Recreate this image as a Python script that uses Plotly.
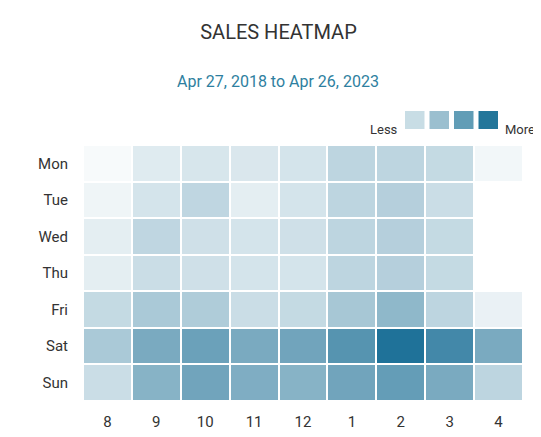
import plotly.graph_objects as go

days = ["Mon", "Tue", "Wed", "Thu", "Fri", "Sat", "Sun"]
hours = ["8", "9", "10", "11", "12", "1", "2", "3", "4"]
values = [
    [3, 12, 15, 14, 16, 25, 25, 22, 5],
    [6, 16, 24, 10, 16, 25, 28, 20, None],
    [10, 24, 18, 16, 18, 25, 28, 22, None],
    [10, 20, 18, 16, 16, 25, 28, 22, None],
    [22, 32, 30, 20, 22, 33, 42, 25, 8],
    [32, 50, 58, 50, 55, 70, 100, 80, 50],
    [20, 45, 55, 48, 45, 55, 62, 50, 25],
]
legend_colors = ["#c8dde5", "#9bbfcf", "#619db6", "#23769a"]

fig = go.Figure(go.Heatmap(
    z=values, x=hours, y=days,
    colorscale=[[0, "#ffffff"], [0.5, "#7aaac0"], [1, "#1f7299"]], zmin=0, zmax=100,
    xgap=2, ygap=2, showscale=False, hoverongaps=False,
))
fig.update_layout(
    width=541, height=437, plot_bgcolor="white", paper_bgcolor="white",
    margin=dict(l=75, r=26, t=137, b=44, autoexpand=False),
    font=dict(family="Roboto", color="#333"),
    title=dict(text="SALES HEATMAP", x=0.5, xref="container", xanchor="center",
               y=0.945, yanchor="middle", font=dict(size=20, color="#333")),
    xaxis=dict(showgrid=False, zeroline=False, tickfont=dict(size=15), ticks="",
               ticklabelstandoff=10),
    yaxis=dict(autorange="reversed", showgrid=False, zeroline=False,
               tickfont=dict(size=15), ticks="", ticklabelstandoff=14),
)
anns = [
    dict(text="Apr 27, 2018 to Apr 26, 2023", xref="paper", yref="paper",
         x=(270 - 75) / 440, y=(393 - 62) / 256, showarrow=False,
         font=dict(size=16, color="#2e7fa0")),
    dict(text="Less", xref="paper", yref="paper", x=(392 - 75) / 440, y=(393 - 112) / 256,
         showarrow=False, xanchor="right", font=dict(size=13, color="#333")),
    dict(text="More", xref="paper", yref="paper", x=(495 - 75) / 440, y=(393 - 112) / 256,
         showarrow=False, xanchor="left", font=dict(size=13, color="#333")),
]
fig.layout.annotations = anns
shapes = []
for i, c in enumerate(legend_colors):
    x0 = 397 + i * 24.5
    shapes.append(dict(type="rect", xref="paper", yref="paper",
                       x0=(x0 - 75) / 440, x1=(x0 + 19.5 - 75) / 440,
                       y0=(393 - 121) / 256, y1=(393 - 103) / 256,
                       fillcolor=c, line=dict(width=0)))
fig.update_layout(shapes=shapes)
fig.write_html("out.html")
